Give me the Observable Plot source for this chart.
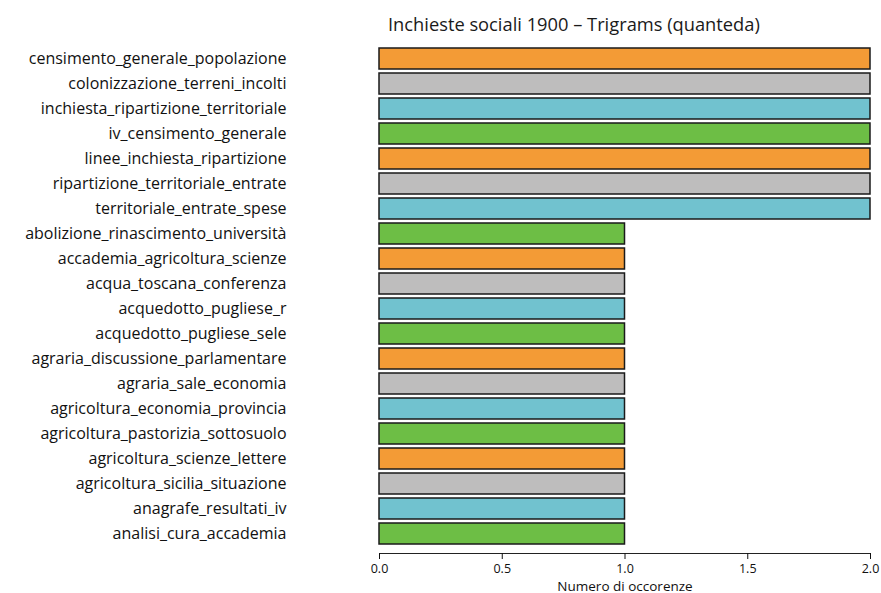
<!DOCTYPE html>
<html><head><meta charset="utf-8">
<script src="https://cdn.jsdelivr.net/npm/d3@7"></script>
<script src="https://cdn.jsdelivr.net/npm/@observablehq/plot@0.6"></script>
<style>
body{margin:0;background:#fff;font-family:"Open Sans",sans-serif;}
#title{height:36px;position:relative;}
#title span{position:absolute;left:388px;top:11px;font-size:18.3px;color:#1a1a1a;white-space:nowrap;}
</style></head><body>
<div id="title"><span>Inchieste sociali 1900 – Trigrams (quanteda)</span></div>
<div id="chart"></div>
<script>
const trigrams = [
  "censimento_generale_popolazione",
  "colonizzazione_terreni_incolti",
  "inchiesta_ripartizione_territoriale",
  "iv_censimento_generale",
  "linee_inchiesta_ripartizione",
  "ripartizione_territoriale_entrate",
  "territoriale_entrate_spese",
  "abolizione_rinascimento_università",
  "accademia_agricoltura_scienze",
  "acqua_toscana_conferenza",
  "acquedotto_pugliese_r",
  "acquedotto_pugliese_sele",
  "agraria_discussione_parlamentare",
  "agraria_sale_economia",
  "agricoltura_economia_provincia",
  "agricoltura_pastorizia_sottosuolo",
  "agricoltura_scienze_lettere",
  "agricoltura_sicilia_situazione",
  "anagrafe_resultati_iv",
  "analisi_cura_accademia"
];
const counts = [2,2,2,2,2,2,2,1,1,1,1,1,1,1,1,1,1,1,1,1];
const barColors = ["#f39b36","#bebdbd","#71c2cf","#6dbe45"];
const xTicks = [0, 0.5, 1, 1.5, 2];
const data = trigrams.map((t, i) => ({trigram: t, count: counts[i], color: barColors[i % barColors.length]}));

const chart = Plot.plot({
  width: 881, height: 557,
  marginLeft: 379, marginRight: 11, marginTop: 6, marginBottom: 40,
  style: {fontFamily: "Open Sans", color: "#111", background: "white"},
  x: {domain: [0, 2]},
  y: {domain: trigrams, padding: 0.16, insetBottom: 4},
  color: {type: "identity"},
  marks: [
    Plot.barX(data, {y: "trigram", x: "count", fill: "color", stroke: "#1a1a1a", strokeWidth: 1.5}),
    Plot.frame({anchor: "bottom", stroke: "#222"}),
    Plot.axisY({tickSize: 0, tickPadding: 93, fontSize: 16, label: null}),
    Plot.axisX({ticks: xTicks, tickFormat: d3.format(".1f"), tickSize: 6, tickPadding: 5, fontSize: 12.5, label: null}),
    Plot.axisX({ticks: [], tickSize: 0, fontSize: 13.5,
      label: "Numero di occorenze", labelAnchor: "center", labelOffset: 37, labelArrow: "none"})
  ]
});
document.getElementById("chart").appendChild(chart);
</script>
</body></html>
